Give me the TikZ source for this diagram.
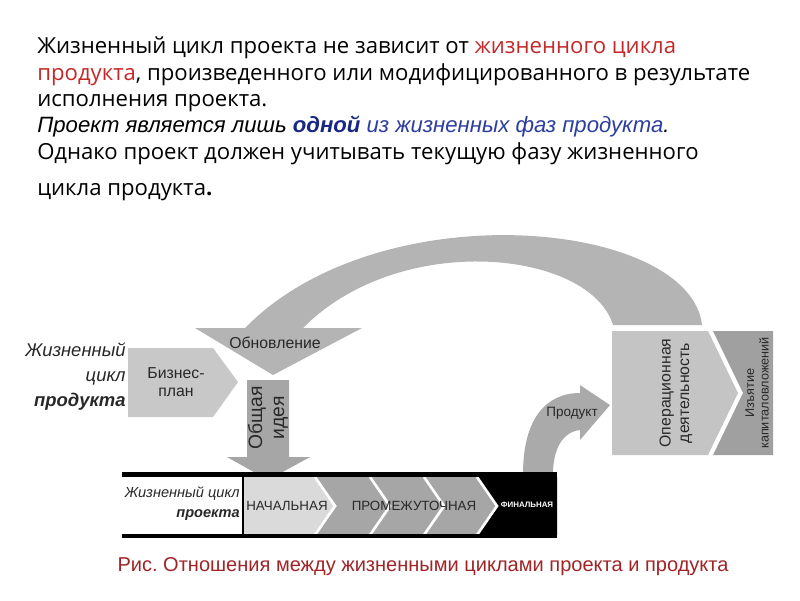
\documentclass[tikz,border=0pt]{standalone}
\usepackage{fontspec}
\setmainfont{Open Sans}
\newfontfamily\arialfont{Liberation Sans}
\usepackage{tikz}
\usepackage{xcolor}
\usetikzlibrary{positioning, calc}
\frenchspacing
\definecolor{cRed}{RGB}{196,40,40}
\definecolor{cBlue}{RGB}{44,62,160}
\definecolor{cNavy}{RGB}{24,40,130}
\definecolor{cCap}{RGB}{160,36,38}
\definecolor{cArc}{RGB}{180,180,180}
\definecolor{cPlan}{RGB}{200,200,200}
\definecolor{cIdea}{RGB}{166,166,166}
\definecolor{cOper}{RGB}{196,196,196}
\definecolor{cExit}{RGB}{160,160,160}
\definecolor{cStart}{RGB}{218,218,218}
\definecolor{cMid}{RGB}{166,166,166}
\definecolor{cProd}{RGB}{170,170,170}
\definecolor{cInk}{RGB}{40,40,40}
\tikzset{
	toptxt/.style={anchor=base west, inner sep=0pt, font=\fontsize{12.6}{14}\selectfont},
	ittxt/.style ={anchor=base west, inner sep=0pt, font=\arialfont\itshape\fontsize{12.6}{15}\selectfont},
	lbl/.style   ={inner sep=0pt, align=center, text=cInk, font=\arialfont\fontsize{9}{10.5}\selectfont},
	sidelbl/.style={inner sep=0pt, anchor=east, align=right, text=cInk, font=\arialfont\itshape\fontsize{10.5}{14.2}\selectfont},
	phase/.style ={inner sep=0pt, text=cInk, font=\arialfont\fontsize{7.6}{9}\selectfont},
	chev/.style  ={white, line width=1.5pt},
	barline/.style={black, line width=2.6pt},
}
\begin{document}
\begin{tikzpicture}[x=0.02cm, y=-0.02cm]
	\useasboundingbox (0,0) rectangle (800,600);
	% header text
	\node[toptxt] (l1) at (37,53) {Жизненный цикл проекта не зависит от \textcolor{cRed}{жизненного цикла}};
	\node[toptxt] (l2) at (37,80) {\textcolor{cRed}{продукта}, произведенного или модифицированного в результате};
	\node[toptxt] (l3) at (37,106) {исполнения проекта.};
	\node[ittxt] (l4) at (37,132) {Проект является лишь \textcolor{cNavy}{\bfseries одной} \textcolor{cBlue}{из жизненных фаз продукта}.};
	\node[toptxt] (l5) at (37,159) {Однако проект должен учитывать текущую фазу жизненного};
	\node[toptxt] (l6) at (37,195) {цикла продукта{\bfseries .}};
	% renewal arc
	\fill[cArc] (702,325) .. controls (690,220) and (380,190) .. (245,328) -- (195,328) -- (273,375)
		-- (362,328) -- (303,328) .. controls (400,230) and (590,250) .. (613,325) -- cycle;
	\node[lbl] (upd) at (275,343) {Обновление};
	% product life cycle
	\node[sidelbl] (pl) at (126,377) {Жизненный\\цикл\\{\bfseries продукта}};
	\fill[cPlan] (128,348) -- (213,348) -- (238,382) -- (213,417) -- (128,417) -- cycle;
	\node[lbl] (plan) at (176,382) {Бизнес-\\план};
	\fill[cIdea] (247,380) -- (289,380) -- (289,457) -- (310,457) -- (268,480) -- (227,457) -- (247,457) -- cycle;
	\node[lbl, rotate=90, font=\arialfont\fontsize{11}{12.5}\selectfont] (idea) at (268,418) {Общая\\идея};
	\fill[cOper] (612,331) -- (708,331) -- (738,393) -- (708,455) -- (612,455) -- cycle;
	\fill[cExit] (713,331) -- (773,331) -- (773,455) -- (713,455) -- (743,393) -- cycle;
	\node[lbl, rotate=90] (oper) at (676,393) {Операционная\\деятельность};
	\node[lbl, rotate=90, font=\arialfont\fontsize{7.2}{8.2}\selectfont] (exit) at (757,393) {Изъятие\\капиталовложений};
	% product arrow
	\fill[cProd] (523,474) .. controls (523,420) and (545,393) .. (580,393) -- (580,385) -- (610,405)
		-- (580,440) -- (580,430) .. controls (562,432) and (553,450) .. (553,474) -- cycle;
	\node[lbl, font=\arialfont\fontsize{7.7}{9}\selectfont] (prod) at (572,413) {Продукт};
	% project bar
	\fill[cStart] (243,477) -- (315,477) -- (337,506) -- (315,535) -- (243,535) -- cycle;
	\fill[cMid] (315,477) -- (477,477) -- (497,506) -- (477,535) -- (315,535) -- (337,506) -- cycle;
	\fill[black] (477,477) -- (557,477) -- (557,535) -- (477,535) -- (497,506) -- cycle;
	\foreach \cx in {315,370,424,477} \draw[chev] (\cx,477) -- (\cx+20,506) -- (\cx,535);
	\draw[barline] (122,474.5) -- (557,474.5);
	\draw[barline] (122,536) -- (557,536);
	\draw[line width=0.8pt] (243,476) -- (243,535);
	\node[sidelbl, font=\arialfont\itshape\fontsize{8.3}{11.3}\selectfont] (pj) at (240,504) {Жизненный цикл\\{\bfseries проекта}};
	\node[phase] (ph1) at (287,506) {НАЧАЛЬНАЯ};
	\node[phase] (ph2) at (414,506) {ПРОМЕЖУТОЧНАЯ};
	\node[phase, text=white, font=\arialfont\bfseries\fontsize{4.5}{5}\selectfont] (ph3) at (527,505) {ФИНАЛЬНАЯ};
	% caption
	\node[inner sep=0pt, text=cCap, font=\arialfont\fontsize{11.4}{13}\selectfont] (cap) at (423,567) {Рис. Отношения между жизненными циклами проекта и продукта};
\end{tikzpicture}
\end{document}
